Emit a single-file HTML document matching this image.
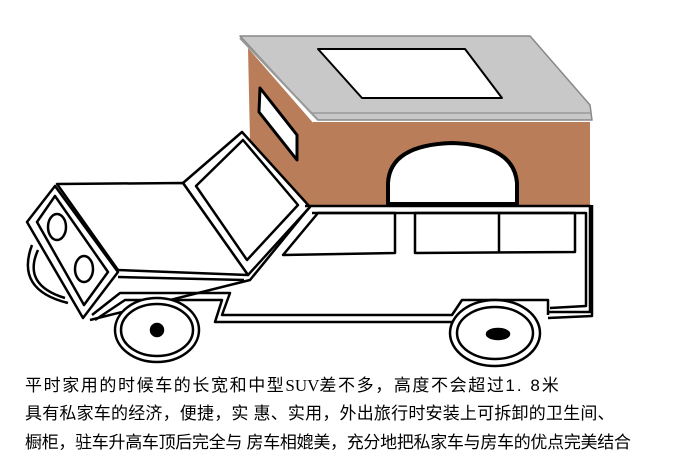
<!DOCTYPE html>
<html><head><meta charset="utf-8"><style>
html,body{margin:0;padding:0;background:#fff;width:700px;height:466px;overflow:hidden}
.t{position:absolute;left:25px;font-family:"Liberation Sans","Noto Sans CJK SC",sans-serif;font-size:17px;color:#000;white-space:nowrap;letter-spacing:0px}
</style></head><body>
<svg width="700" height="466" style="position:absolute;left:0;top:0" fill="none" stroke="#000" stroke-width="2.5" stroke-linejoin="round">
<polygon points="248,48 315,125 315,205 300,205 250,140" fill="#b97d5a" stroke="none"/>
<rect x="313" y="122" width="277" height="84" fill="#b97d5a" stroke="none"/>
<polygon points="240,36 530,36 590,105 592,120 318,120 310,112" fill="#c8c8c8" stroke="#888" stroke-width="1.5"/>
<path d="M312,113 L590,113" stroke="#999" stroke-width="1.5"/>
<path d="M240,38 L318,120" stroke="#999" stroke-width="2"/>
<polygon points="318,49 465,49 502,98 362,98" fill="#fff" stroke="#000" stroke-width="2"/>
<polygon points="260,88 297,135 297,160 259,112" fill="#fff" stroke="#000" stroke-width="3"/>
<path d="M388,204 L388,183 Q390,145 452,143 Q514,145 517,183 L517,204 Z" fill="#fff" stroke="#000" stroke-width="4"/>
<polygon points="183,183 242,132 310,207 248,275" fill="#fff"/>
<polygon points="196,186 243,140 298,205 247,260"/>
<polygon points="57,184 183,183 248,275 118,270" fill="#fff"/>
<path d="M118,277 L244,280"/>
<polygon points="27,222 55,186 118,272 83,318" fill="#fff"/>
<polygon points="37,222 55,196 108,272 84,305"/>
<ellipse cx="57" cy="227" rx="9" ry="13"/>
<ellipse cx="84" cy="269" rx="9" ry="13"/>
<path d="M38,250 Q22,285 65,298"/>
<path d="M32,245 Q15,290 68,303"/>
<path d="M305,206 L590,206 L590,312 L548,312"/>
<path d="M312,213 L586,213 L586,306 L550,308"/>
<path d="M592,205 L592,316 L548,318"/>
<path d="M308,209 L250,280 L90,320"/>
<polygon points="283,255 318,213 395,213 395,253"/>
<polygon points="415,213 575,213 575,252 415,253"/>
<path d="M499,214 L499,253"/>
<path d="M92,315 L120,293 L230,293 L222,315 L452,315 L462,300 L548,300 L548,315"/>
<path d="M95,320 L125,300 L222,300 L215,322 L452,322"/>
<ellipse cx="157" cy="330" rx="42" ry="32" fill="#fff"/>
<ellipse cx="157" cy="330" rx="36" ry="26"/>
<ellipse cx="157" cy="330" rx="6" ry="6" fill="#000"/>
<ellipse cx="495" cy="333" rx="45" ry="33" fill="#fff"/>
<ellipse cx="495" cy="333" rx="38" ry="26"/>
<ellipse cx="498" cy="334" rx="11" ry="5" fill="#000"/>
</svg>
<div class="t" style="top:371px;letter-spacing:1.6px">平时家用的时候车的长宽和中型<span style="font-family:'Liberation Serif',serif;letter-spacing:0">SUV</span>差不多，高度不会超过<span style="letter-spacing:2px">1. 8</span>米</div>
<div class="t" style="top:399px;letter-spacing:0.2px">具有私家车的经济，便捷，实 惠、实用，外出旅行时安装上可拆卸的卫生间、</div>
<div class="t" style="top:428px;letter-spacing:-0.3px">橱柜，驻车升高车顶后完全与 房车相媲美，充分地把私家车与房车的优点完美结合</div>
</body></html>
